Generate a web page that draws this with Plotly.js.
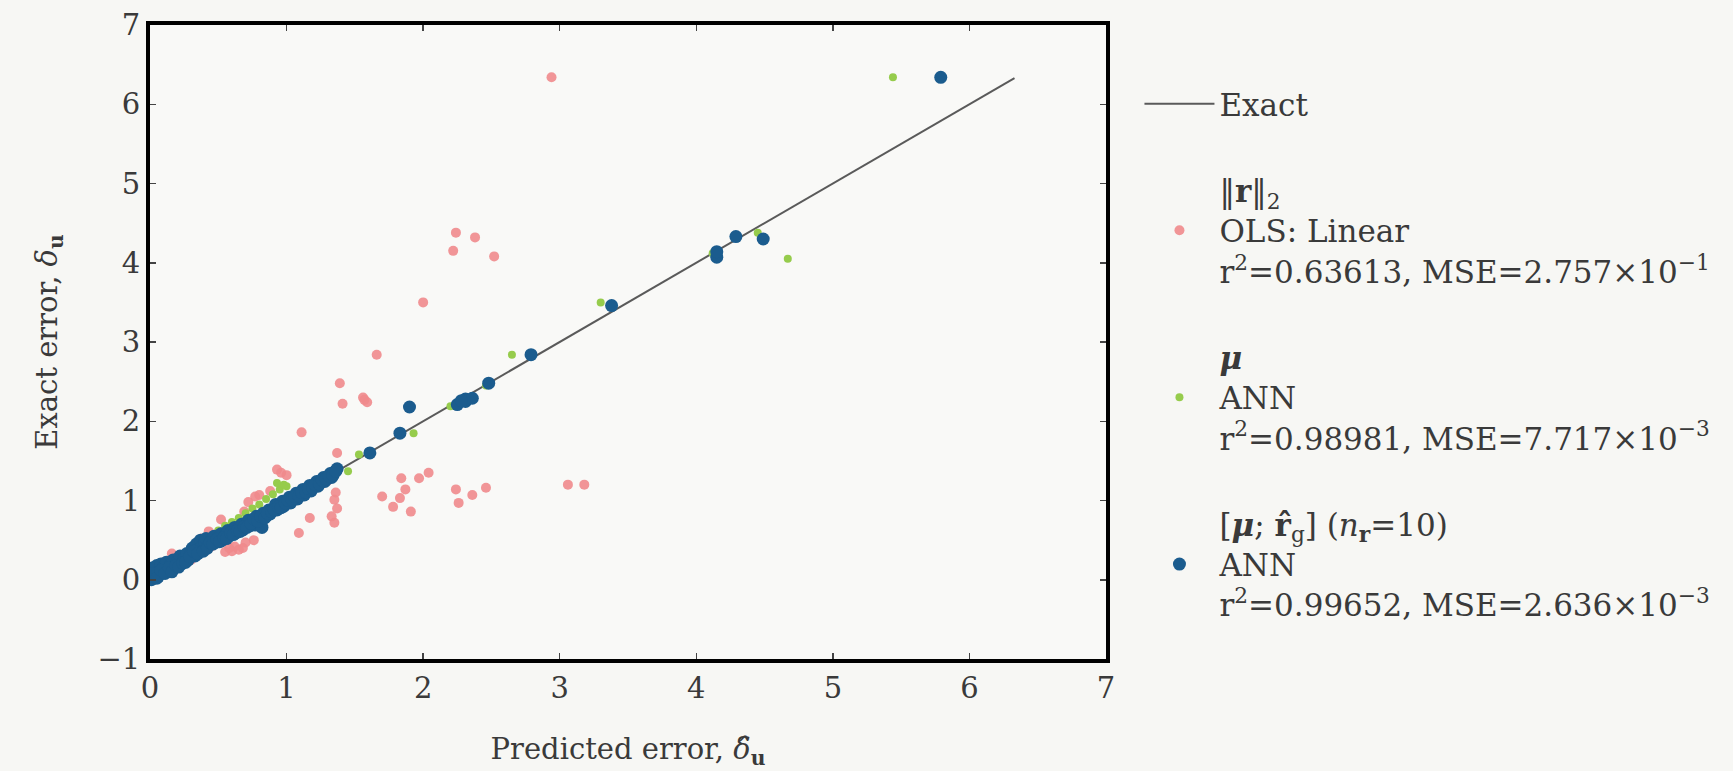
<!DOCTYPE html>
<html>
<head>
<meta charset="utf-8">
<script src="https://cdn.plot.ly/plotly-3.0.1.min.js"></script>
<style>html,body{margin:0;padding:0;background:#f7f7f4;}</style>
</head>
<body>
<div id="chart" style="width:1733px;height:771px;"></div>
<script>
// Exact reference line (y = x)
const exactX = [0, 6.33];
const exactY = [0, 6.33];

// ||r||_2, OLS: Linear
const olsX = [2.94,2.24,2.38,2.22,2.52,2.00,1.66,1.39,1.41,1.56,1.59,1.57,1.11,1.37,0.93,0.96,1.00,
  1.36,1.35,1.37,1.35,1.33,1.09,1.17,1.70,1.78,1.83,1.84,1.87,1.91,1.97,2.04,2.24,2.26,2.36,2.46,3.06,3.18,
  0.77,0.72,0.69,0.52,0.43,0.38,0.55,0.60,0.65,0.68,0.62,0.58,0.76,0.70,0.16,0.10,0.06,0.20,0.25,0.30,0.33,
  0.45,0.48,0.85,0.90,1.05,1.15,1.25,1.30,0.02,0.12,0.40,0.50,0.80,0.88];
const olsY = [6.34,4.38,4.32,4.15,4.08,3.50,2.84,2.48,2.22,2.30,2.24,2.27,1.86,1.60,1.39,1.35,1.32,
  1.10,1.01,0.90,0.72,0.80,0.59,0.78,1.05,0.92,1.03,1.28,1.14,0.86,1.28,1.35,1.14,0.97,1.07,1.16,1.20,1.20,
  1.05,0.98,0.86,0.76,0.61,0.52,0.35,0.36,0.38,0.40,0.42,0.40,0.50,0.47,0.33,0.22,0.12,0.26,0.30,0.25,0.33,
  0.42,0.48,0.80,0.86,1.02,1.10,1.20,1.25,0.05,0.10,0.38,0.55,1.07,1.12];

// mu, ANN
const annMuX = [5.44,4.67,4.45,3.30,2.65,2.20,1.93,1.53,1.45,2.46,4.12,
  0.50,0.55,0.60,0.65,0.70,0.75,0.80,0.85,0.90,0.95,0.98,1.00,0.93,
  0.05,0.15,0.25,0.35,0.45,1.10,1.20,1.30,0.30,0.40];
const annMuY = [6.34,4.05,4.38,3.50,2.84,2.19,1.85,1.58,1.37,2.45,4.12,
  0.62,0.68,0.73,0.78,0.84,0.90,0.95,1.02,1.08,1.14,1.20,1.18,1.22,
  0.08,0.18,0.30,0.40,0.50,1.12,1.22,1.30,0.34,0.46];

// [mu; r_g] (n_r = 10), ANN
const annRX = [5.79,4.15,4.15,4.29,4.49,3.38,2.79,2.48,2.31,2.31,2.25,2.36,2.28,1.90,1.83,1.61,
  0.00,0.00,0.01,0.02,0.03,0.04,0.05,0.06,0.07,0.08,0.09,0.10,0.12,0.13,0.15,0.17,0.18,0.20,0.22,0.23,
  0.25,0.27,0.28,0.30,0.31,0.33,0.34,0.36,0.37,0.38,0.40,0.41,0.43,0.45,0.47,0.48,0.50,0.52,0.53,0.55,
  0.57,0.58,0.60,0.62,0.63,0.65,0.67,0.68,0.70,0.72,0.73,0.75,0.77,0.78,0.80,0.82,0.83,0.85,0.87,0.88,
  0.90,0.92,0.93,0.95,0.97,0.98,1.00,1.02,1.03,1.05,1.07,1.08,1.10,1.12,1.13,1.15,1.17,1.18,1.20,1.22,
  1.23,1.25,1.27,1.28,1.30,1.32,1.33,1.35,1.37,
  0.02,0.05,0.08,0.11,0.14,0.16,0.19,0.21,0.24,0.26,0.29,0.32,0.35,0.39,0.42,0.44,0.46,0.49,0.51,0.54,
  0.56,0.59,0.61,0.64,0.66,0.69,0.71,0.74,0.76,0.79,0.81,0.84,0.86,0.89,0.91,0.94,0.96,0.99,1.01,1.04,
  1.06,1.09,1.11,1.14,1.16,1.19,1.21,1.24,1.26,1.29,1.31,1.34,1.36];
const annRY = [6.34,4.07,4.14,4.33,4.30,3.46,2.84,2.48,2.25,2.28,2.21,2.29,2.26,2.18,1.85,1.60,
  0.05,0.12,0.00,0.15,0.07,0.10,0.18,0.04,0.13,0.20,0.09,0.16,0.22,0.12,0.19,0.25,0.15,0.23,0.30,0.20,
  0.27,0.33,0.25,0.33,0.40,0.30,0.45,0.38,0.50,0.42,0.47,0.52,0.44,0.50,0.55,0.47,0.53,0.58,0.50,0.56,
  0.62,0.55,0.61,0.66,0.59,0.65,0.70,0.63,0.69,0.75,0.68,0.73,0.69,0.80,0.76,0.66,0.84,0.80,0.88,0.83,
  0.89,0.95,0.88,0.93,0.99,0.93,0.98,1.04,0.97,1.03,1.09,1.02,1.08,1.14,1.07,1.13,1.19,1.12,1.18,1.24,
  1.18,1.23,1.29,1.24,1.29,1.34,1.29,1.36,1.40,
  0.08,0.02,0.12,0.08,0.15,0.10,0.18,0.16,0.21,0.22,0.29,0.36,0.33,0.36,0.40,0.47,0.45,0.51,0.48,0.53,
  0.52,0.59,0.57,0.62,0.61,0.67,0.66,0.71,0.77,0.74,0.80,0.78,0.84,0.86,0.88,0.92,0.91,0.97,1.00,1.01,
  1.05,1.06,1.10,1.11,1.15,1.16,1.20,1.21,1.26,1.27,1.31,1.32,1.37];

const xTicks = [0,1,2,3,4,5,6,7];
const yTicks = [-1,0,1,2,3,4,5,6,7];

const FONT = 'DejaVu Serif, Liberation Serif, serif';
const TXT = '#3a3a3a';

const traces = [
  {x: exactX, y: exactY, mode: 'lines', name: 'Exact', legendgroup: 'a',
   line: {color: '#5a5a5a', width: 2}},
  {x: olsX, y: olsY, mode: 'markers', legendgroup: 'b',
   name: '‖<b>r</b>‖<sub>2</sub><br>OLS: Linear<br>r<sup>2</sup>=0.63613, MSE=2.757×10<sup>−1</sup>',
   marker: {color: '#f08a8c', size: 10, opacity: 0.9}},
  {x: annMuX, y: annMuY, mode: 'markers', legendgroup: 'c',
   name: '<b><i>μ</i></b><br>ANN<br>r<sup>2</sup>=0.98981, MSE=7.717×10<sup>−3</sup>',
   marker: {color: '#96cc4c', size: 8}},
  {x: annRX, y: annRY, mode: 'markers', legendgroup: 'd',
   name: '[<b><i>μ</i></b>; <b>r̂</b><sub>g</sub>] (<i>n</i><sub><b>r</b></sub>=10)<br>ANN<br>r<sup>2</sup>=0.99652, MSE=2.636×10<sup>−3</sup>',
   marker: {color: '#1b5c8e', size: 13}}
];

const axisCommon = {
  showgrid: false, zeroline: false, showline: true, mirror: 'allticks',
  linecolor: '#000000', linewidth: 4, ticks: 'inside', ticklen: 6, tickwidth: 1.5,
  tickcolor: '#444444', tickfont: {family: FONT, size: 29, color: TXT}
};

const layout = {
  width: 1733, height: 771,
  margin: {l: 150, r: 627, t: 25, b: 112},
  paper_bgcolor: '#f7f7f4', plot_bgcolor: '#f9f9f7',
  font: {family: FONT, color: TXT, size: 30},
  xaxis: Object.assign({}, axisCommon, {
    range: [0, 7], tickvals: xTicks, ticktext: xTicks.map(String),
    title: {text: 'Predicted error, <i>δ̂</i><sub><b>u</b></sub>', font: {family: FONT, size: 29, color: TXT}, standoff: 36}
  }),
  yaxis: Object.assign({}, axisCommon, {
    range: [-1, 7], tickvals: yTicks, ticktext: yTicks.map(v => v < 0 ? '−' + Math.abs(v) : String(v)),
    title: {text: 'Exact error, <i>δ</i><sub><b>u</b></sub>', font: {family: FONT, size: 29, color: TXT}, standoff: 32}
  }),
  showlegend: true,
  legend: {
    x: 1.035, xanchor: 'left', y: 0.918, yanchor: 'top',
    bgcolor: 'rgba(0,0,0,0)', borderwidth: 0,
    font: {family: FONT, size: 31, color: TXT},
    traceorder: 'grouped', tracegroupgap: 43, itemwidth: 70, valign: 'middle'
  }
};

Plotly.newPlot('chart', traces, layout, {displayModeBar: false, staticPlot: true});
</script>
</body>
</html>
